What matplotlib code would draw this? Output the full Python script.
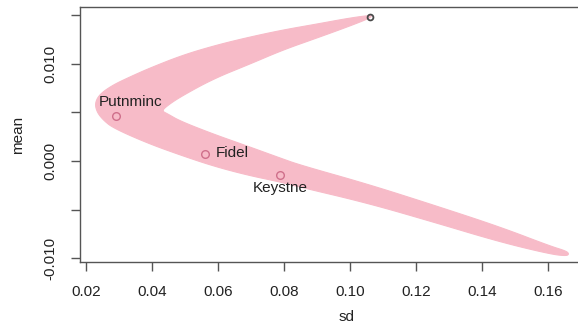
import matplotlib
matplotlib.use("Agg")
import matplotlib.pyplot as plt
import numpy as np

plt.rcParams['font.family'] = ['Liberation Sans', 'DejaVu Sans']

# Outline of the pink frontier band (sd, mean), going around the shape
band_sd = [0.1067, 0.1000, 0.0900, 0.0797, 0.0697, 0.0597, 0.0494, 0.0394, 0.0333,
           0.0282, 0.0242, 0.0227,
           0.0233, 0.0252, 0.0282, 0.0385, 0.0485, 0.0585, 0.0688, 0.0788, 0.0848,
           0.1052, 0.1252, 0.1455, 0.1606, 0.1655, 0.1664,
           0.1655, 0.1606, 0.1455, 0.1252, 0.1052, 0.0848, 0.0788, 0.0688, 0.0585,
           0.0485, 0.0448, 0.0430,
           0.0445, 0.0485, 0.0585, 0.0697, 0.0797, 0.0900, 0.1000, 0.1061]
band_mean = [0.01497, 0.01467, 0.01405, 0.01344, 0.01272, 0.01190, 0.01087, 0.00954, 0.00862,
             0.00780, 0.00687, 0.00595,
             0.00503, 0.00421, 0.00339, 0.00185, 0.00062, -0.00051, -0.00144, -0.00215, -0.00267,
             -0.00431, -0.00626, -0.00831, -0.00954, -0.00974, -0.00954,
             -0.00923, -0.00872, -0.00677, -0.00451, -0.00236, -0.00041, 0.00031, 0.00154, 0.00277,
             0.00410, 0.00482, 0.00513,
             0.00564, 0.00656, 0.00841, 0.00995, 0.01139, 0.01262, 0.01385, 0.01467]

# Individual assets
asset_names = ["Putnminc", "Fidel", "Keystne"]
asset_sd = [0.0290, 0.0561, 0.0788]
asset_mean = [0.0046, 0.0007, -0.00144]

# Tangency / end point
end_sd = [0.1061]
end_mean = [0.0148]

x_ticks = [0.02, 0.04, 0.06, 0.08, 0.10, 0.12, 0.14, 0.16]
y_ticks = [-0.010, -0.005, 0.000, 0.005, 0.010, 0.015]
y_tick_labels = ["-0.010", "", "0.000", "", "0.010", ""]


def chaikin(xs, ys, n_iter=3):
    p = np.column_stack([xs, ys])
    for _ in range(n_iter):
        q = np.roll(p, -1, axis=0)
        a = 0.75 * p + 0.25 * q
        b = 0.25 * p + 0.75 * q
        p = np.empty((2 * len(a), 2))
        p[0::2] = a
        p[1::2] = b
    return p[:, 0], p[:, 1]


W, H = 578, 327
fig = plt.figure(figsize=(W / 100, H / 100), dpi=100)
left, right, top, bottom = 80, 614, 7, 262
ax = fig.add_axes([left / W, (H - bottom) / H, (right - left) / W, (bottom - top) / H])

sx, sy = chaikin(band_sd, band_mean)
ax.fill(sx, sy, color='#F7BBC8', lw=0.8, ec='#F7BBC8', zorder=1)
ax.plot(asset_sd, asset_mean, 'o', mfc='none', mec='#CF6F8B', ms=5.5, mew=1.0, zorder=3)
ax.plot(end_sd, end_mean, 'o', mfc='none', mec='#4a4a4a', ms=4.2, mew=1.3, zorder=3)

offsets = {"Putnminc": (11, 10, 'center'), "Fidel": (8, 1, 'left'), "Keystne": (0, -9.5, 'center')}
for n, x, y in zip(asset_names, asset_sd, asset_mean):
    dx, dy, ha = offsets[n]
    ax.annotate(n, (x, y), xytext=(dx, dy), textcoords='offset points',
                ha=ha, va='center', fontsize=11, color='#222222', zorder=4)

ax.set_xlim(0.01818, 0.18)
ax.set_ylim(-0.010359, 0.015795)
ax.set_xticks(x_ticks)
ax.set_xticklabels([f"{v:.2f}" for v in x_ticks])
ax.set_yticks(y_ticks)
ax.set_yticklabels(y_tick_labels, rotation=90, va='center')

for s in ['left', 'bottom', 'top']:
    ax.spines[s].set_color('#555555')
    ax.spines[s].set_linewidth(1.0)
ax.spines['right'].set_visible(False)
ax.tick_params(direction='out', length=6.5, width=1.0, color='#555555',
               labelsize=11, labelcolor='#222222')
ax.tick_params(axis='x', pad=10)
ax.tick_params(axis='y', pad=10)

ax.set_xlabel('sd', fontsize=11, color='#222222', va='center')
ax.xaxis.set_label_coords((347 - left) / (right - left), -(317 - bottom) / (bottom - top))
fig.text(18 / W, 1 - 135 / H, 'mean', rotation=90, ha='center', va='center',
         fontsize=11, color='#222222')

fig.savefig('out.png', dpi=100)
